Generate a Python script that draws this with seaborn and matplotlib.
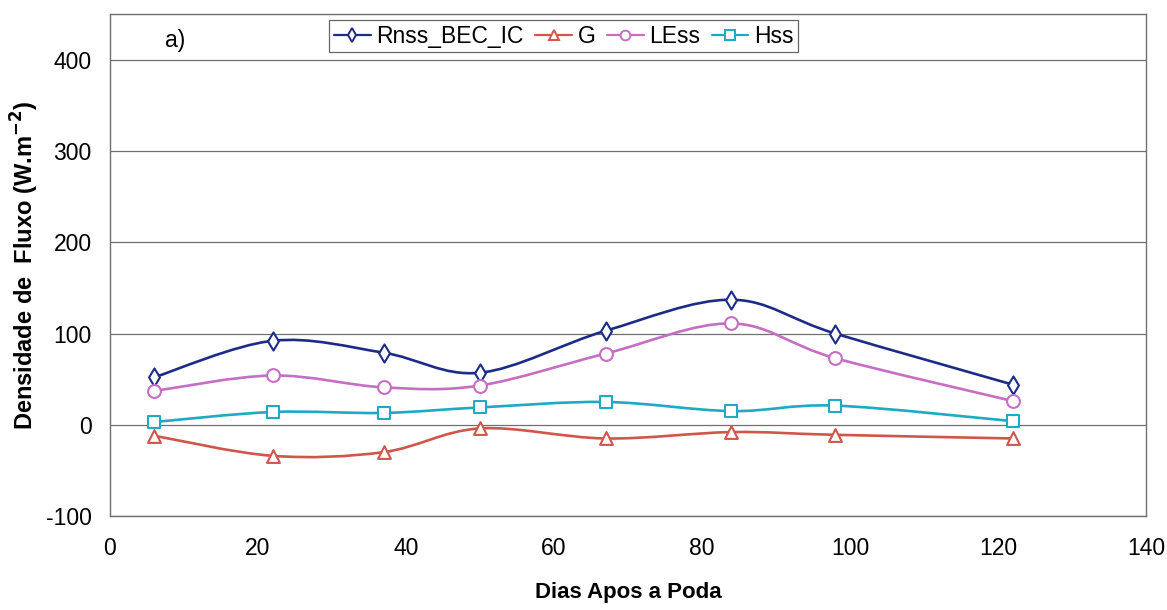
import numpy as np
import pandas as pd
import matplotlib
matplotlib.use("Agg")
import matplotlib.pyplot as plt
import seaborn as sns
from matplotlib.path import Path
from matplotlib.patches import PathPatch
from matplotlib.lines import Line2D

# Dados
dias = [6, 22, 37, 50, 67, 84, 98, 122]
rnss = [52, 92, 79, 57, 103, 137, 100, 44]
g = [-12, -34, -30, -4, -15, -8, -11, -15]
less = [37, 54, 41, 43, 78, 111, 73, 26]
hss = [3, 14, 13, 19, 25, 15, 21, 4]

nomes = ["Rnss_BEC_IC", "G", "LEss", "Hss"]
cores = ["#1c2c86", "#d0564c", "#c56ec4", "#1eaac2"]
marcadores = ["d", "^", "o", "s"]

df = pd.DataFrame({"Dias": dias * 4,
                   "Fluxo": rnss + g + less + hss,
                   "Serie": sum([[n] * len(dias) for n in nomes], [])})

sns.set_style("white")
plt.rcParams["font.family"] = ["Liberation Sans", "DejaVu Sans"]
plt.rcParams["axes.unicode_minus"] = False
plt.rcParams["text.color"] = "black"
plt.rcParams["axes.labelcolor"] = "black"
plt.rcParams["xtick.color"] = "black"
plt.rcParams["ytick.color"] = "black"


def curva_suave(x, y):
    # linha suavizada tipo Excel (Bezier cúbica)
    p = np.column_stack([x, y]).astype(float)
    pts = np.vstack([p[0], p, p[-1]])
    verts = [p[0]]
    codes = [Path.MOVETO]
    for i in range(1, len(pts) - 2):
        c1 = pts[i] + (pts[i + 1] - pts[i - 1]) / 6
        c2 = pts[i + 1] - (pts[i + 2] - pts[i]) / 6
        verts += [c1, c2, pts[i + 1]]
        codes += [Path.CURVE4] * 3
    return Path(verts, codes)


fig = plt.figure(figsize=(11.67, 6.10), dpi=100)
ax = fig.add_axes([0.094, 0.154, 0.888, 0.823])

for nome, cor, mk in zip(nomes, cores, marcadores):
    sub = df[df["Serie"] == nome]
    ax.add_patch(PathPatch(curva_suave(sub["Dias"], sub["Fluxo"]), facecolor="none",
                           edgecolor=cor, lw=1.9, zorder=3))
    sns.scatterplot(data=sub, x="Dias", y="Fluxo", marker=mk, s=85 if mk != "s" else 70,
                    facecolor="white", edgecolor=cor, linewidth=1.5, ax=ax, zorder=4)

ax.set_xlim(0, 140)
ax.set_ylim(-100, 450)
ax.set_xticks(range(0, 141, 20))
ax.set_yticks(range(-100, 401, 100))
ax.yaxis.grid(True, color="#707070", lw=0.9)
ax.set_axisbelow(True)
for s in ax.spines.values():
    s.set_color("#707070")
    s.set_linewidth(1.0)
ax.tick_params(axis="both", direction="in", length=4, color="#707070", labelsize=16.5)
ax.tick_params(axis="y", pad=13)
ax.tick_params(axis="x", pad=15)

ax.set_xlabel("Dias Apos a Poda", fontsize=16, fontweight="bold", labelpad=16)
ax.set_ylabel("Densidade de  Fluxo (W.m$^{\\mathbf{-2}}$)", fontsize=17, fontweight="bold")
ax.yaxis.set_label_coords(-0.066, 0.5)
ax.text(0.063, 0.948, "a)", transform=ax.transAxes, fontsize=16.5, ha="center", va="center")

handles = [Line2D([0], [0], color=c, lw=1.6, marker=m, markersize=7, markerfacecolor="white",
                  markeredgecolor=c, markeredgewidth=1.4) for c, m in zip(cores, marcadores)]
leg = ax.legend(handles, nomes, ncol=4, loc="upper left", bbox_to_anchor=(0.212, 0.988),
                fontsize=16.5, frameon=True, fancybox=False, edgecolor="#404040",
                handlelength=1.6, handletextpad=0.25, columnspacing=0.5, borderpad=0.2,
                borderaxespad=0)
leg.get_frame().set_linewidth(0.9)

fig.savefig("out.png", dpi=100)
